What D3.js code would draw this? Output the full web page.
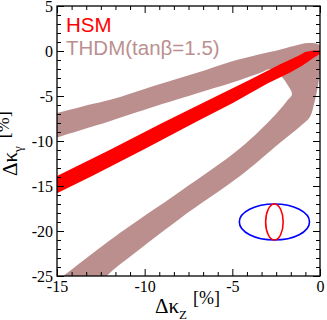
<!DOCTYPE html>
<html lang="en">
<head>
<meta charset="UTF-8">
<title>dkappa</title>
<style>
    body { margin: 0; background: #fff; }
    .axis text { font-family: "Liberation Serif", "DejaVu Serif", serif; font-size: 16px; fill: #000; }
    .axis line { stroke: #000; stroke-width: 1; }
    .axis path { display: none; }
</style>
</head>
<body>
<div id="wrapper"></div>
<script src="https://d3js.org/d3.v7.min.js"></script>
<script>
    // axis ticks
    const xTicks = [-15, -10, -5, 0];
    const yTicks = [5, 0, -5, -10, -15, -20, -25];
    const xMinorSteps = 6; // intervals between majors
    const yMinorSteps = 5;

    // legend
    const legendLabels = ["HSM", "THDM(tanβ=1.5)"];

    // HSM band (upper / lower edge, data units)
    const hsmUpper = [[-15.5, -14.4], [-15, -13.9], [-12, -11.0], [-9, -8.0], [-6, -5.1], [-4, -3.2],
        [-2.3, -1.5], [-1.2, -0.5], [-0.85, -0.1], [-0.4, 0.05], [0, 0.05]];
    const hsmLower = [[0, -0.3], [-0.4, -0.8], [-1.0, -1.6], [-1.7, -2.4], [-3, -3.6], [-5, -5.8],
        [-7, -7.8], [-10, -10.9], [-13, -13.9], [-15, -15.8], [-15.5, -16.3]];

    // THDM band: outer edge and inner hole (data units)
    const thdmOuter = [[-16, -7.4], [-15, -6.9], [-13, -5.9], [-11.4, -5.1], [-9.5, -3.9], [-8, -3.0],
        [-6.5, -2.1], [-5.1, -1.2], [-3.5, -0.4], [-2.3, 0.15], [-1.5, 0.55], [-0.85, 0.85],
        [-0.3, 0.85], [0.08, 0.5], [0.12, -0.5], [0.04, -1.8], [-0.11, -3.8], [-0.34, -5.9],
        [-0.57, -7.3], [-1.14, -8.4], [-2.28, -10.2], [-4.56, -13.9], [-7.98, -18.6],
        [-11.4, -23.7], [-13.3, -26.5], [-16, -26.5]];
    const thdmHole = [[-15.8, -10.1], [-15, -9.6], [-12, -7.8], [-9, -5.9], [-7, -4.7], [-5, -3.5],
        [-3.5, -2.5], [-2.8, -2.0], [-2.3, -2.6], [-1.9, -3.6], [-1.6, -4.8], [-1.82, -5.4],
        [-2.56, -7.1], [-4.56, -10.8], [-7.98, -15.6], [-11.4, -20.2], [-14.7, -25.1],
        [-15.3, -26], [-15.8, -26]];

    // resolution ellipses
    const ellCx = [-2.6, -2.6];
    const ellCy = [-19, -19];
    const ellRx = [2, 0.5];
    const ellRy = [2, 2];

    const svgwidth = 327, svgheight = 320;
    const margin = { left: 57, top: 6, right: 7, bottom: 44 };
    const chartWidth = svgwidth - margin.left - margin.right;
    const chartHeight = svgheight - margin.top - margin.bottom;

    const svg = d3.select('#wrapper').append('svg')
        .attr('width', svgwidth)
        .attr('height', svgheight);

    const xScale = d3.scaleLinear().domain([-15, 0]).range([0, chartWidth]);
    const yScale = d3.scaleLinear().domain([-25, 5]).range([chartHeight, 0]);

    const g = svg.append('g').attr('transform', `translate(${margin.left},${margin.top})`);

    g.append('clipPath').attr('id', 'clip')
        .append('rect').attr('width', chartWidth).attr('height', chartHeight);

    const plot = g.append('g').attr('clip-path', 'url(#clip)');

    const area = d3.line()
        .x(d => xScale(d[0]))
        .y(d => yScale(d[1]))
        .curve(d3.curveCatmullRomClosed.alpha(0.5));

    // THDM horseshoe
    plot.append('path')
        .attr('d', area(thdmOuter) + area(thdmHole))
        .attr('fill', '#bc8f8f')
        .attr('fill-rule', 'evenodd');

    // HSM line band
    const band = d3.line()
        .x(d => xScale(d[0]))
        .y(d => yScale(d[1]))
        .curve(d3.curveLinearClosed);
    plot.append('path')
        .attr('d', band(hsmUpper.concat(hsmLower)))
        .attr('fill', '#ff0000');

    // ellipses
    const ellColors = ['#0000ff', '#ff0000'];
    plot.selectAll('ellipse')
        .data(ellCx)
        .join('ellipse')
        .attr('cx', d => xScale(d))
        .attr('cy', (d, i) => yScale(ellCy[i]))
        .attr('rx', (d, i) => xScale(ellRx[i]) - xScale(0))
        .attr('ry', (d, i) => yScale(0) - yScale(ellRy[i]))
        .attr('fill', 'none')
        .attr('stroke', (d, i) => ellColors[i])
        .attr('stroke-width', 1.6);

    // minor tick values
    const xMinor = d3.range(0, 3 * xMinorSteps + 1).map(i => -15 + i * 5 / xMinorSteps)
        .filter((d, i) => i % xMinorSteps !== 0);
    const yMinor = d3.range(0, 6 * yMinorSteps + 1).map(i => -25 + i * 5 / yMinorSteps)
        .filter((d, i) => i % yMinorSteps !== 0);

    const fmt = d => String(d);

    // bottom
    g.append('g').attr('class', 'axis').attr('transform', `translate(0,${chartHeight})`)
        .call(d3.axisBottom(xScale).tickValues(xTicks).tickFormat(fmt).tickSizeInner(-7).tickSizeOuter(0).tickPadding(5));
    g.append('g').attr('class', 'axis').attr('transform', `translate(0,${chartHeight})`)
        .call(d3.axisBottom(xScale).tickValues(xMinor).tickFormat('').tickSizeInner(-4).tickSizeOuter(0));
    // top
    g.append('g').attr('class', 'axis')
        .call(d3.axisTop(xScale).tickValues(xTicks).tickFormat('').tickSizeInner(-7).tickSizeOuter(0));
    g.append('g').attr('class', 'axis')
        .call(d3.axisTop(xScale).tickValues(xMinor).tickFormat('').tickSizeInner(-4).tickSizeOuter(0));
    // left
    g.append('g').attr('class', 'axis')
        .call(d3.axisLeft(yScale).tickValues(yTicks).tickFormat(fmt).tickSizeInner(-7).tickSizeOuter(0).tickPadding(4));
    g.append('g').attr('class', 'axis')
        .call(d3.axisLeft(yScale).tickValues(yMinor).tickFormat('').tickSizeInner(-4).tickSizeOuter(0));
    // right
    g.append('g').attr('class', 'axis').attr('transform', `translate(${chartWidth},0)`)
        .call(d3.axisRight(yScale).tickValues(yTicks).tickFormat('').tickSizeInner(-7).tickSizeOuter(0));
    g.append('g').attr('class', 'axis').attr('transform', `translate(${chartWidth},0)`)
        .call(d3.axisRight(yScale).tickValues(yMinor).tickFormat('').tickSizeInner(-4).tickSizeOuter(0));

    // frame
    g.append('rect')
        .attr('width', chartWidth).attr('height', chartHeight)
        .attr('fill', 'none').attr('stroke', '#000').attr('stroke-width', 1.3);

    // legend
    g.selectAll('.legend')
        .data(legendLabels)
        .join('text')
        .attr('class', 'legend')
        .attr('x', 9)
        .attr('y', (d, i) => 26 + i * 23)
        .attr('fill', (d, i) => i === 0 ? '#ff0000' : '#bc8f8f')
        .style('font-family', 'Liberation Sans, Arial, sans-serif')
        .style('font-size', '20.5px')
        .text(d => d);

    // axis titles
    const serif = 'Liberation Serif, DejaVu Serif, serif';
    const xt = svg.append('text').attr('x', 155).attr('y', 313).style('font-family', serif);
    xt.append('tspan').style('font-size', '21px').text('Δκ');
    xt.append('tspan').style('font-size', '13px').attr('dy', 6).text('Z');
    xt.append('tspan').style('font-size', '18px').attr('dy', -15).attr('dx', 6).text('[%]');

    const yt = svg.append('text').attr('transform', 'rotate(-90)')
        .attr('x', -176).attr('y', 17).style('font-family', serif);
    yt.append('tspan').style('font-size', '21px').text('Δκ');
    yt.append('tspan').style('font-size', '13px').attr('dy', 5).text('γ');
    yt.append('tspan').style('font-size', '18px').attr('dy', -13).attr('dx', 8).text('[%]');
</script>
</body>
</html>
